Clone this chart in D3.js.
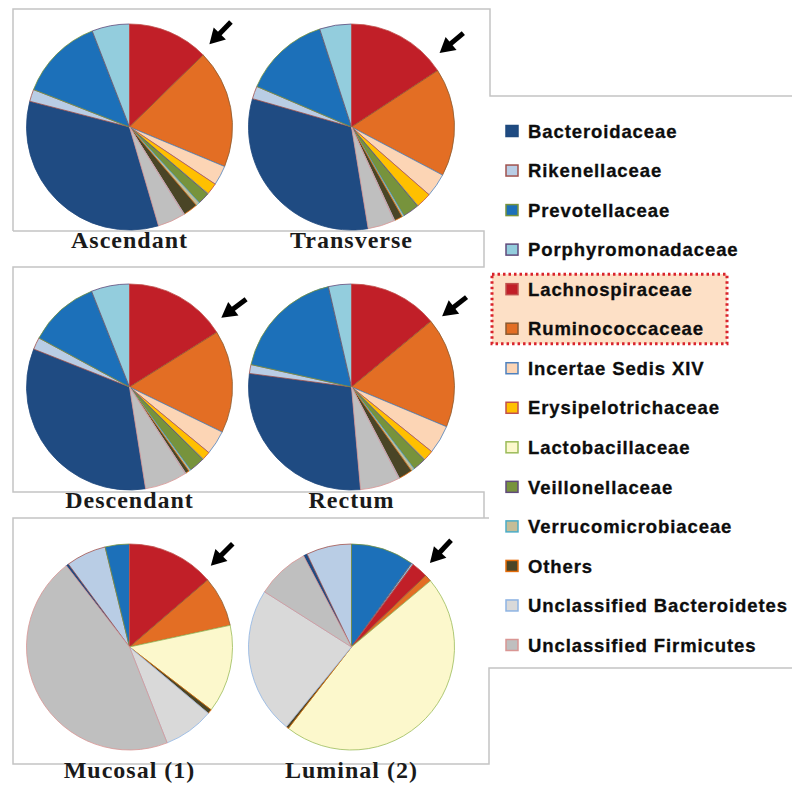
<!DOCTYPE html>
<html>
<head>
<meta charset="utf-8">
<script src="https://cdn.jsdelivr.net/npm/d3@7"></script>
<style>
  body { margin: 0; background: #fff; }
  .site { font-family: "Liberation Serif", "DejaVu Serif", serif; font-weight: bold; font-size: 24px; fill: #1a1a1a; letter-spacing: 1px; }
  .legend text { font-family: "Liberation Sans", Arial, sans-serif; font-weight: bold; font-size: 18.5px; fill: #0d0d0d; letter-spacing: 0.9px; stroke: #0d0d0d; stroke-width: 0.3px; }
</style>
</head>
<body>
<div class="chart"></div>
<script>
// families, legend order
const families = [
    "Bacteroidaceae", "Rikenellaceae", "Prevotellaceae", "Porphyromonadaceae",
    "Lachnospiraceae", "Ruminococcaceae", "Incertae Sedis XIV", "Erysipelotrichaceae",
    "Lactobacillaceae", "Veillonellaceae", "Verrucomicrobiaceae", "Others",
    "Unclassified Bacteroidetes", "Unclassified Firmicutes"
];

// relative abundance (%) per site, same order as families
const ascendant  = [33.6, 1.9, 13.2, 5.9, 12.7, 18.6, 3.1, 1.8, 0.1, 1.9, 0.6, 2.3, 0.1, 4.3];
const transverse = [32.1, 2.0, 13.6, 5.0, 15.8, 17.0, 3.7, 2.4, 0.1, 2.6, 0.3, 1.3, 0.1, 4.2];
const descendant = [33.5, 1.9, 11.1, 6.0, 16.1, 16.1, 3.8, 1.3, 0.1, 2.5, 0.3, 0.6, 0.1, 6.6];
const rectum     = [28.5, 1.4, 17.9, 3.6, 14.0, 17.3, 4.5, 1.6, 0.1, 2.1, 0.5, 2.2, 0.1, 6.2];
const mucosal    = [0.4, 6.3, 3.8, 0.0, 13.7, 7.9, 0.0, 0.0, 13.8, 0.0, 0.0, 0.7, 7.9, 45.4];
const luminal    = [0.6, 7.1, 9.9, 0.3, 2.6, 1.1, 0.0, 0.0, 46.6, 0.0, 0.0, 0.4, 23.1, 8.3];

const sites = ["Ascendant", "Transverse", "Descendant", "Rectum", "Mucosal (1)", "Luminal (2)"];
const siteValues = [ascendant, transverse, descendant, rectum, mucosal, luminal];
// family whose slice starts at 12 o'clock
const firstAtTop = ["Lachnospiraceae", "Lachnospiraceae", "Lachnospiraceae",
                    "Lachnospiraceae", "Lachnospiraceae", "Prevotellaceae"];
const highlighted = ["Lachnospiraceae", "Ruminococcaceae"];

// styles
const fills = ["#1f4b82", "#b9cde5", "#1c70b9", "#93cddd", "#c11f28", "#e36e24", "#fcd5b5",
               "#ffc000", "#fcf8cc", "#77933c", "#c4bd97", "#4a4526", "#d9d9d9", "#bfbfbf"];
const borders = ["#1f497d", "#a0524d", "#77933c", "#604a7b", "#c0504d", "#8a5a30", "#4f81bd",
                 "#c0504d", "#9bbb59", "#604a7b", "#4bacc6", "#e46c0a", "#8eb4e3", "#d99694"];
const arrowAngles = [44, 50, 53, 52, 45, 43];

const width = 792, height = 787;
const svg = d3.select(".chart").append("svg")
    .attr("width", width)
    .attr("height", height);

const fill = d3.scaleOrdinal().domain(families).range(fills);
const border = d3.scaleOrdinal().domain(families).range(borders);

// frames
svg.append("path")
    .attr("fill", "none")
    .attr("stroke", "#c4c4c4")
    .attr("stroke-width", 1.5)
    .attr("d", "M13,231V9H490V96H792" +
               "M13,231H484V267H13V492H484V518H13V764H489V668H792" +
               "M484,518H489");

// pie grid
const col = d3.scalePoint().domain([0, 1]).range([129.5, 351.5]);
const row = d3.scalePoint().domain([0, 1, 2]).range([127, 647]);
const radius = 103;
const labelY = [248, 508, 778];

const arc = d3.arc().innerRadius(0).outerRadius(radius);

sites.forEach((site, i) => {
    const vals = siteValues[i];
    const data = families.map((f, j) => ({family: f, value: vals[j]}));
    const total = d3.sum(vals);
    const k = families.indexOf(firstAtTop[i]);
    const offset = -d3.sum(vals.slice(0, k)) / total * 2 * Math.PI;

    const pie = d3.pie()
        .sort(null)
        .value(d => d.value)
        .startAngle(offset)
        .endAngle(offset + 2 * Math.PI);

    const cx = col(i % 2), cy = row(Math.floor(i / 2));
    const g = svg.append("g").attr("transform", `translate(${cx},${cy})`);

    g.selectAll("path")
        .data(pie(data).filter(d => d.data.value > 0))
        .join("path")
        .attr("d", arc)
        .attr("fill", d => fill(d.data.family))
        .attr("stroke", d => border(d.data.family))
        .attr("stroke-width", 0.8)
        .attr("stroke-linejoin", "round");

    // arrow toward the Lachnospiraceae / Ruminococcaceae wedge
    const a = arrowAngles[i] * Math.PI / 180;
    const ux = Math.sin(a), uy = -Math.cos(a);
    const tip = radius + 12;
    const px = -uy, py = ux;
    const arrow = g.append("g");
    arrow.append("line")
        .attr("x1", ux * (tip + 31)).attr("y1", uy * (tip + 31))
        .attr("x2", ux * (tip + 8)).attr("y2", uy * (tip + 8))
        .attr("stroke", "#000")
        .attr("stroke-width", 5);
    arrow.append("path")
        .attr("fill", "#000")
        .attr("d", d3.line()([
            [ux * tip, uy * tip],
            [ux * (tip + 15) + px * 8.5, uy * (tip + 15) + py * 8.5],
            [ux * (tip + 15) - px * 8.5, uy * (tip + 15) - py * 8.5]
        ]));

    svg.append("text")
        .attr("class", "site")
        .attr("x", cx)
        .attr("y", labelY[Math.floor(i / 2)])
        .attr("text-anchor", "middle")
        .text(site);
});

// legend
const legendY = d3.scaleLinear().domain([0, families.length - 1]).range([131, 645]);
const legend = svg.append("g").attr("class", "legend");

legend.append("rect")
    .attr("x", 492)
    .attr("y", legendY(families.indexOf(highlighted[0])) - 15)
    .attr("width", 235)
    .attr("height", legendY(families.indexOf(highlighted[1])) - legendY(families.indexOf(highlighted[0])) + 30)
    .attr("fill", "#fde0c6")
    .attr("stroke", "#d9232b")
    .attr("stroke-width", 3)
    .attr("stroke-dasharray", "2.5,3");

const item = legend.selectAll("g.item")
    .data(families)
    .join("g")
    .attr("class", "item")
    .attr("transform", (d, i) => `translate(0,${legendY(i)})`);

item.append("rect")
    .attr("x", 506)
    .attr("y", -5.5)
    .attr("width", 12)
    .attr("height", 11)
    .attr("fill", d => fill(d))
    .attr("stroke", d => border(d))
    .attr("stroke-width", 1.5);

item.append("text")
    .attr("x", 528)
    .attr("dy", "0.36em")
    .text(d => d);
</script>
</body>
</html>
